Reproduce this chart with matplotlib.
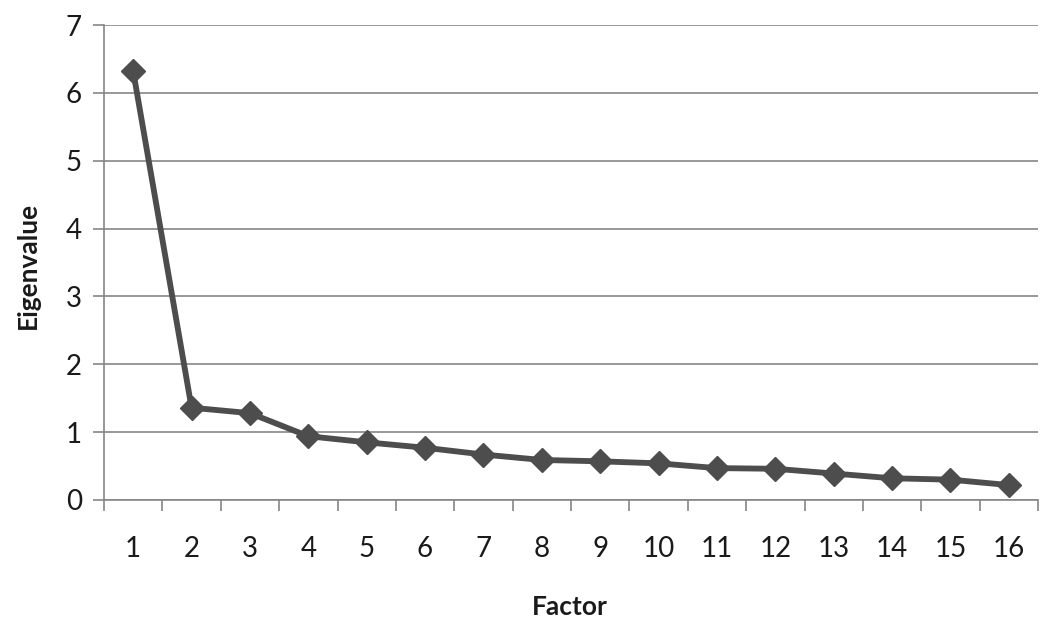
import matplotlib
matplotlib.use("Agg")
import matplotlib.pyplot as plt
from matplotlib.ticker import FixedLocator, NullFormatter

factors = list(range(1, 17))
factor_labels = [str(f) for f in factors]
eigenvalues = [6.32, 1.36, 1.28, 0.94, 0.85, 0.77, 0.67, 0.59, 0.57, 0.54,
               0.47, 0.46, 0.39, 0.32, 0.30, 0.22]
y_ticks = [0, 1, 2, 3, 4, 5, 6, 7]

plt.rcParams['font.family'] = ['Lato', 'DejaVu Sans']

fig = plt.figure(figsize=(10.5, 6.29), dpi=100)
ax = fig.add_axes([104/1050, 1 - 500/629, (1038 - 104)/1050, (500 - 25)/629])

grid_c = '#868686'
line_c = '#4d4d4d'

ax.plot(factors, eigenvalues, color=line_c, lw=4.2, marker='D', ms=12,
        mfc=line_c, mec=line_c, zorder=3, solid_joinstyle='round')

ax.set_xlim(0.5, 16.5)
ax.set_ylim(0, 7)
ax.set_yticks(y_ticks)
ax.set_yticklabels([str(v) for v in y_ticks])
ax.yaxis.grid(True, color=grid_c, lw=1.2)
ax.set_axisbelow(True)

ax.set_xticks(factors)
ax.set_xticklabels(factor_labels)
ax.xaxis.set_minor_locator(FixedLocator([f + 0.5 for f in [0] + factors]))
ax.xaxis.set_minor_formatter(NullFormatter())
ax.tick_params(axis='x', which='major', length=0, pad=26, labelsize=20, labelcolor='#1a1a1a')
ax.tick_params(axis='x', which='minor', length=8, width=1.2, color=grid_c, direction='out')
ax.tick_params(axis='y', which='major', length=8, width=1.2, color=grid_c, direction='out',
               labelsize=20, labelcolor='#1a1a1a', pad=8)

for s in ['top', 'right']:
    ax.spines[s].set_visible(False)
for s in ['left', 'bottom']:
    ax.spines[s].set_color(grid_c)
    ax.spines[s].set_linewidth(1.2)

fig.text(570/1050, 1 - 607/629, 'Factor', ha='center', va='center',
         fontsize=19, fontweight='bold', color='#1a1a1a')
fig.text(28/1050, 1 - 265/629, 'Eigenvalue', ha='center', va='center',
         rotation=90, fontsize=19, fontweight='bold', color='#1a1a1a')

fig.savefig('out.png', dpi=100)
